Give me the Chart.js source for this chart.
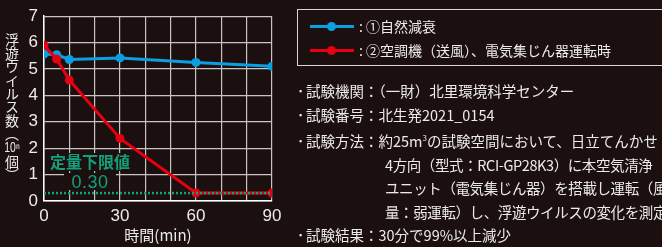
<!DOCTYPE html>
<html lang="ja">
<head>
  <meta charset="UTF-8" />
  <title>浮遊ウイルス数の変化</title>
  <script src="https://cdn.jsdelivr.net/npm/chart.js"></script>
  <style>
    body {
      margin: 0;
      background: #1b100f;
      font-family: "Noto Sans CJK JP", "Noto Sans", sans-serif;
      color: #ecebea;
    }
    #wrap {
      position: relative;
      width: 662px;
      height: 247px;
      overflow: hidden;
    }
    #chartBox {
      position: absolute;
      left: 0;
      top: 0;
      width: 300px;
      height: 247px;
    }
    .ytitle {
      position: absolute;
      left: 5px;
      top: 33px;
      writing-mode: vertical-rl;
      text-orientation: upright;
      font-size: 14px;
      line-height: 1;
      letter-spacing: -0.6px;
      color: #ecebea;
    }
    .ytitle .tcy {
      text-combine-upright: all;
      font-family: "Liberation Sans", sans-serif;
    }
    .limit {
      position: absolute;
      background: #1b100f;
      color: #12a07c;
      text-align: center;
      line-height: 1;
    }
    .legend {
      position: absolute;
      left: 297px;
      top: 9px;
      width: 400px;
      height: 55px;
      border: 1px solid #d8d6d5;
    }
    .legend .row {
      position: absolute;
      left: 12px;
      height: 16px;
      font-size: 14px;
      line-height: 16px;
      white-space: nowrap;
    }
    .legend .mark {
      display: inline-block;
      position: relative;
      width: 44px;
      height: 16px;
      vertical-align: top;
      margin-right: 5px;
    }
    .legend .mark i {
      position: absolute;
      left: 0;
      top: 7px;
      width: 44px;
      height: 3px;
    }
    .legend .mark b {
      position: absolute;
      left: 17px;
      top: 4px;
      width: 9px;
      height: 9px;
      border-radius: 50%;
    }
    .notes {
      position: absolute;
      left: 297px;
      top: 79px;
      width: 365px;
      font-size: 14.5px;
      white-space: nowrap;
      overflow: hidden;
    }
    .notes div {
      height: 23.5px;
      line-height: 23.5px;
    }
    .notes .dot {
      display: inline-block;
      width: 9px;
    }
    .notes .ind {
      padding-left: 88px;
      letter-spacing: -0.4px;
    }
    sup {
      font-size: 8px;
      line-height: 0;
    }
  </style>
</head>
<body>
  <div id="wrap">
    <div id="chartBox"><canvas id="virusChart"></canvas></div>

    <div class="ytitle">浮遊ウイルス数（<span class="tcy">10ⁿ</span>個）</div>

    <div class="limit" style="left:50px; top:153px; width:80px; height:18px; font-size:16px; font-weight:bold;">定量下限値</div>
    <div class="limit" style="left:64px; top:173px; width:52px; height:17px; font-size:18px; font-family:'Liberation Sans',sans-serif; letter-spacing:0.5px;">0.30</div>

    <div class="legend">
      <div class="row" style="top:8px;"><span class="mark"><i style="background:#0a9fe3"></i><b style="background:#0a9fe3"></b></span>: ①自然減衰</div>
      <div class="row" style="top:32px;"><span class="mark"><i style="background:#e60012"></i><b style="background:#e60012"></b></span>: ②空調機（送風）、電気集じん器運転時</div>
    </div>

    <div class="notes">
      <div><span class="dot">･</span>試験機関：（一財）北里環境科学センター</div>
      <div><span class="dot">･</span>試験番号：北生発2021_0154</div>
      <div style="margin-top:3px;"><span class="dot">･</span>試験方法：約25m<sup>3</sup>の試験空間において、日立てんかせ</div>
      <div class="ind">4方向（型式：RCI-GP28K3）に本空気清浄</div>
      <div class="ind">ユニット（電気集じん器）を搭載し運転（風</div>
      <div class="ind">量：弱運転）し、浮遊ウイルスの変化を測定</div>
      <div><span class="dot">･</span>試験結果：30分で99%以上減少</div>
    </div>
  </div>

  <script>
    // data
    const times = [0, 5, 10, 30, 60, 90];
    const naturalDecay = [5.57, 5.54, 5.36, 5.42, 5.25, 5.1];
    const purifierOn = [5.9, 5.38, 4.58, 2.37, 0.3, 0.3];
    const limitTimes = [0, 90];
    const limitValue = 0.3;
    const xLabelTicks = [0, 30, 60, 90];

    const toPoints = (xs, ys) => xs.map((x, i) => ({ x: x, y: ys[i] }));

    const blue = '#0a9fe3';
    const red = '#e60012';
    const teal = '#12a07c';
    const gridColor = '#c9c4c2';

    new Chart(document.getElementById('virusChart'), {
      type: 'line',
      data: {
        datasets: [
          {
            label: '定量下限値',
            data: limitTimes.map(x => ({ x: x, y: limitValue })),
            borderColor: teal,
            borderWidth: 2.5,
            borderDash: [2, 2],
            pointRadius: 0,
            order: 0
          },
          {
            label: '②空調機（送風）、電気集じん器運転時',
            data: toPoints(times, purifierOn),
            borderColor: red,
            backgroundColor: red,
            borderWidth: 3,
            pointRadius: 4.5,
            pointBorderWidth: 0,
            order: 1
          },
          {
            label: '①自然減衰',
            data: toPoints(times, naturalDecay),
            borderColor: blue,
            backgroundColor: blue,
            borderWidth: 3,
            pointRadius: 4.5,
            pointBorderWidth: 0,
            order: 2
          }
        ]
      },
      options: {
        responsive: true,
        maintainAspectRatio: false,
        animation: false,
        layout: { padding: { top: 9, right: 28, left: 0, bottom: 0 } },
        plugins: {
          legend: { display: false },
          tooltip: { enabled: false }
        },
        scales: {
          x: {
            type: 'linear',
            min: 0,
            max: 90,
            afterFit: (axis) => { axis.height = 46; },
            afterBuildTicks: (axis) => {
              axis.ticks = [];
              for (let v = 0; v <= 90; v += 10) axis.ticks.push({ value: v });
            },
            ticks: {
              color: '#ecebea',
              font: { family: 'Liberation Sans', size: 17 },
              padding: 5,
              maxRotation: 0,
              autoSkip: false,
              callback: (v) => xLabelTicks.includes(v) ? String(v) : ''
            },
            grid: { color: gridColor, lineWidth: 1.2, drawTicks: false },
            border: { color: '#ffffff', width: 1.5 },
            title: {
              display: true,
              text: '時間(min)',
              color: '#ecebea',
              font: { family: 'Noto Sans CJK JP', size: 15 },
              padding: { top: 0, bottom: 3 }
            }
          },
          y: {
            min: 0,
            max: 7,
            afterFit: (axis) => { axis.width = 44; },
            ticks: {
              stepSize: 1,
              color: '#ecebea',
              font: { family: 'Liberation Sans', size: 17 },
              padding: 6
            },
            grid: { color: gridColor, lineWidth: 1.2, drawTicks: false },
            border: { color: '#ffffff', width: 1.5 }
          }
        }
      }
    });
  </script>
</body>
</html>
